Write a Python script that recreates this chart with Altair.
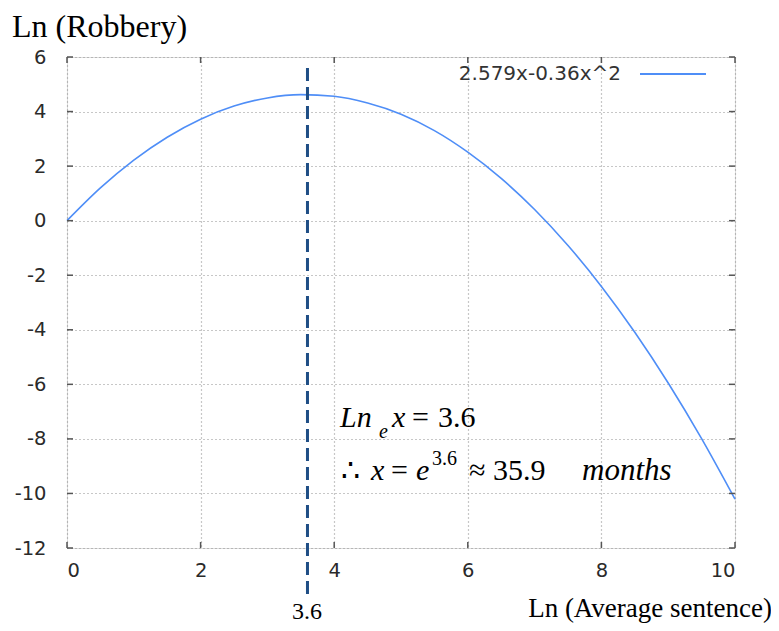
import altair as alt
import pandas as pd

# Curve values
x_vals = [0, 0.5, 1, 1.5, 2, 2.5, 3, 3.5, 4, 4.5, 5, 5.5, 6, 6.5, 7, 7.5, 8, 8.5, 9, 9.5, 10]
y_vals = [0, 1.20, 2.22, 3.06, 3.72, 4.20, 4.50, 4.62, 4.56, 4.31, 3.90, 3.30, 2.51, 1.55,
          0.41, -0.91, -2.41, -4.09, -5.95, -7.99, -10.21]
x_ticks = [0, 2, 4, 6, 8, 10]
y_ticks = [-12, -10, -8, -6, -4, -2, 0, 2, 4, 6]
marker_x = 3.6
legend_label = "2.579x-0.36x^2"

df = pd.DataFrame({"x": x_vals, "y": y_vals})

W, H = 668, 491
SERIF = "Liberation Serif"
SANS = "DejaVu Sans"
FRAME = "#555555"

xs = alt.Scale(domain=[0, 10], nice=False)
ys = alt.Scale(domain=[-12, 6], nice=False)

axis_common = dict(title=None, grid=True, gridDash=[1, 3], gridColor="#8f8f8f", gridWidth=1.2,
                   ticks=False, domain=False, labelFont=SANS, labelFontSize=19.5,
                   labelColor="#2a2a2a", labelExpr="'' + datum.value")

curve = alt.Chart(df).mark_line(color="#4f8ef7", strokeWidth=1.6, interpolate="monotone").encode(
    x=alt.X("x:Q", scale=xs, axis=alt.Axis(values=x_ticks, labelPadding=13, **axis_common)),
    y=alt.Y("y:Q", scale=ys, axis=alt.Axis(values=y_ticks, labelPadding=21, **axis_common)),
)

# small inward tick marks on all four sides (gnuplot style)
xt = pd.DataFrame({"x": x_ticks})
yt = pd.DataFrame({"y": y_ticks})
TL = 6
tick_layers = [
    alt.Chart(xt).mark_rule(color=FRAME, strokeWidth=1.5).encode(
        x=alt.X("x:Q", scale=xs), y=alt.value(H), y2=alt.value(H - TL)),
    alt.Chart(xt).mark_rule(color=FRAME, strokeWidth=1.5).encode(
        x=alt.X("x:Q", scale=xs), y=alt.value(0), y2=alt.value(TL)),
    alt.Chart(yt).mark_rule(color=FRAME, strokeWidth=1.5).encode(
        y=alt.Y("y:Q", scale=ys), x=alt.value(0), x2=alt.value(TL)),
    alt.Chart(yt).mark_rule(color=FRAME, strokeWidth=1.5).encode(
        y=alt.Y("y:Q", scale=ys), x=alt.value(W), x2=alt.value(W - TL)),
]

vline = alt.Chart(pd.DataFrame({"x": [marker_x]})).mark_rule(
    color="#1f4e85", strokeWidth=3, strokeDash=[13, 6], clip=False
).encode(x=alt.X("x:Q", scale=xs), y=alt.value(11), y2=alt.value(537))


def txt(text, x, y, size, font=SERIF, style="normal", align="left", color="#000"):
    return alt.Chart(pd.DataFrame({"t": [text]})).mark_text(
        font=font, fontSize=size, fontStyle=style, align=align, baseline="alphabetic",
        color=color, clip=False
    ).encode(text="t:N", x=alt.value(x), y=alt.value(y))


OX, OY = 67, 57  # plot origin on page


def P(px, py):
    return px - OX, py - OY


layers = [curve] + tick_layers + [vline]

# legend
layers.append(txt(legend_label, *P(621, 80), 20, font=SANS, align="right", color="#333"))
layers.append(alt.Chart(pd.DataFrame({"a": [0]})).mark_rule(color="#4f8ef7", strokeWidth=2).encode(
    x=alt.value(640 - OX), x2=alt.value(706 - OX), y=alt.value(74 - OY)))

# titles
layers.append(txt("Ln (Robbery)", *P(12, 37), 32))
layers.append(txt("Ln (Average sentence)", *P(772, 617), 27, align="right"))
layers.append(txt(str(marker_x), *P(307, 619), 24, align="center"))

# annotation
layers.append(txt("Ln", *P(340, 427), 30, style="italic"))
layers.append(txt("e", *P(379, 438), 20, style="italic"))
layers.append(txt("x", *P(392, 427), 30, style="italic"))
layers.append(txt("=", *P(412, 427), 30))
layers.append(txt("3.6", *P(438, 427), 30))
layers.append(txt("\u2234", *P(341, 480), 30))
layers.append(txt("x", *P(371, 480), 30, style="italic"))
layers.append(txt("=", *P(391, 480), 30))
layers.append(txt("e", *P(416, 480), 30, style="italic"))
layers.append(txt("3.6", *P(432, 465), 20))
layers.append(txt("\u2248", *P(469, 480), 30))
layers.append(txt("35.9", *P(493, 480), 30))
layers.append(txt("months", *P(582, 480), 31, style="italic"))

chart = alt.layer(*layers).properties(
    width=W, height=H,
    autosize=alt.AutoSizeParams(type="none"),
    padding={"left": 59, "top": 49, "right": 36, "bottom": 75},
).configure_view(stroke=FRAME, strokeWidth=2).configure(background="white")

chart.save("out.html", embed_options={"renderer": "svg", "actions": False})
